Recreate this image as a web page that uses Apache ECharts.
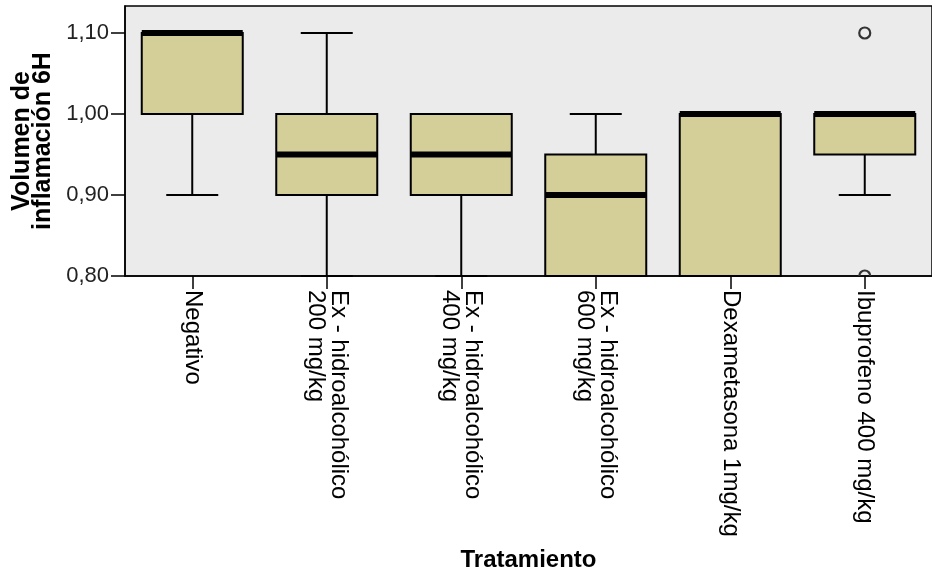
<!DOCTYPE html>
<html>
<head>
<meta charset="utf-8">
<script src="https://cdn.jsdelivr.net/npm/echarts@6/dist/echarts.min.js"></script>
<style>
  html, body { margin: 0; padding: 0; background: #fff; }
  #chart { width: 932px; height: 575px; }
</style>
</head>
<body>
<div id="chart"></div>
<script>
// Treatment groups (x axis)
const categories = [
  'Negativo',
  'Ex - hidroalcohólico\n200 mg/kg',
  'Ex - hidroalcohólico\n400 mg/kg',
  'Ex - hidroalcohólico\n600 mg/kg',
  'Dexametasona 1mg/kg',
  'Ibuprofeno 400 mg/kg'
];

// Five-number summaries per group: inflammation volume at 6 h
const whiskerLow  = [0.90, 0.80, 0.80, 0.80, 0.80, 0.90];
const quartile1   = [1.00, 0.90, 0.90, 0.80, 0.80, 0.95];
const medians     = [1.10, 0.95, 0.95, 0.90, 1.00, 1.00];
const quartile3   = [1.10, 1.00, 1.00, 0.95, 1.00, 1.00];
const whiskerHigh = [1.10, 1.10, 1.00, 1.00, 1.00, 1.00];

// Outliers as [group index, value]
const outliers = [[5, 1.10], [5, 0.80]];

// Y axis ticks
const yTicks = [0.80, 0.90, 1.00, 1.10];

const FONT = 'Liberation Sans, Arial, sans-serif';
const BOX_FILL = '#d4ce99';
const BOX_W = 101;
const CAP_W = 52;

const boxData = categories.map((c, i) =>
  [i, whiskerLow[i], quartile1[i], medians[i], quartile3[i], whiskerHigh[i]]);

function renderBox(params, api) {
  const i = api.value(0);
  const pLow = api.coord([i, api.value(1)]);
  const pQ1 = api.coord([i, api.value(2)]);
  const pMed = api.coord([i, api.value(3)]);
  const pQ3 = api.coord([i, api.value(4)]);
  const pHigh = api.coord([i, api.value(5)]);
  const cx = pMed[0];
  const half = BOX_W / 2;
  const line = { stroke: '#000', lineWidth: 2 };
  const children = [];
  // lower whisker
  if (pLow[1] > pQ1[1] + 0.5) {
    children.push({ type: 'line', shape: { x1: cx, y1: pQ1[1], x2: cx, y2: pLow[1] }, style: line });
    children.push({ type: 'line', shape: { x1: cx - CAP_W / 2, y1: pLow[1], x2: cx + CAP_W / 2, y2: pLow[1] }, style: line });
  }
  // upper whisker
  if (pHigh[1] < pQ3[1] - 0.5) {
    children.push({ type: 'line', shape: { x1: cx, y1: pQ3[1], x2: cx, y2: pHigh[1] }, style: line });
    children.push({ type: 'line', shape: { x1: cx - CAP_W / 2, y1: pHigh[1], x2: cx + CAP_W / 2, y2: pHigh[1] }, style: line });
  }
  // box
  children.push({
    type: 'rect',
    shape: { x: cx - half, y: pQ3[1], width: BOX_W, height: pQ1[1] - pQ3[1] },
    style: { fill: BOX_FILL, stroke: '#000', lineWidth: 2 }
  });
  // median
  children.push({
    type: 'line',
    shape: { x1: cx - half, y1: pMed[1], x2: cx + half, y2: pMed[1] },
    style: { stroke: '#000', lineWidth: 6 }
  });
  return { type: 'group', children };
}

function renderOutlier(params, api) {
  const p = api.coord([api.value(0), api.value(1)]);
  return {
    type: 'circle',
    shape: { cx: p[0], cy: p[1], r: 5.5 },
    style: { fill: 'none', stroke: '#333', lineWidth: 2.2 }
  };
}

const chart = echarts.init(document.getElementById('chart'), null, { renderer: 'canvas' });
chart.setOption({
  animation: false,
  backgroundColor: '#ffffff',
  textStyle: { fontFamily: FONT },
  grid: {
    left: 125, top: 6, width: 816, height: 270,
    show: true, backgroundColor: '#ebebeb', borderColor: '#000', borderWidth: 1.5
  },
  xAxis: {
    type: 'category',
    data: categories,
    boundaryGap: true,
    name: 'Tratamiento',
    nameLocation: 'middle',
    nameGap: 272,
    nameTextStyle: { fontFamily: FONT, fontWeight: 'bold', fontSize: 24, color: '#000' },
    axisLine: { show: true, lineStyle: { color: '#000', width: 1.5 } },
    axisTick: { show: true, alignWithLabel: true, length: 13, lineStyle: { color: '#000', width: 1.5 } },
    axisLabel: {
      show: true, interval: 0, rotate: -90, margin: 14,
      fontFamily: FONT, fontSize: 24, lineHeight: 23, color: '#000'
    },
    splitLine: { show: false }
  },
  yAxis: {
    type: 'value',
    min: 0.8, max: 1.1333, interval: 0.1,
    name: 'Volumen de\ninflamación 6H',
    nameLocation: 'middle',
    nameGap: 71,
    nameTextStyle: { fontFamily: FONT, fontWeight: 'bold', fontSize: 25, lineHeight: 21, color: '#000' },
    axisLine: { show: true, lineStyle: { color: '#000', width: 1.5 } },
    axisTick: { show: true, length: 14, customValues: yTicks, lineStyle: { color: '#000', width: 1.5 } },
    axisLabel: {
      customValues: yTicks, margin: 16,
      fontFamily: FONT, fontSize: 22, color: '#222',
      formatter: v => v.toFixed(2).replace('.', ',')
    },
    splitLine: { show: false }
  },
  series: [
    {
      type: 'custom',
      renderItem: renderBox,
      data: boxData,
      encode: { x: 0, y: [1, 2, 3, 4, 5] },
      clip: false,
      z: 2
    },
    {
      type: 'custom',
      renderItem: renderOutlier,
      data: outliers,
      encode: { x: 0, y: 1 },
      clip: true,
      z: 3
    }
  ]
});
</script>
</body>
</html>
